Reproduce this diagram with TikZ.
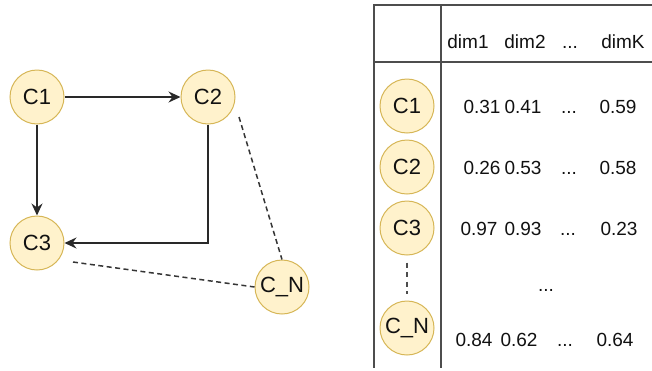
\documentclass[tikz,border=0pt]{standalone}
\usepackage{fontspec}
\setmainfont{Liberation Sans}
\usetikzlibrary{arrows.meta}
\definecolor{nodefill}{HTML}{FFF2CC}
\definecolor{nodeline}{HTML}{D6B656}
\definecolor{gridline}{HTML}{4D4D4D}
\definecolor{ink}{HTML}{111111}
\tikzset{
  cnode/.style={circle, draw=nodeline, fill=nodefill, line width=1pt,
    minimum size=54pt, inner sep=0pt, text=ink, font=\fontsize{22}{24}\selectfont},
  flow/.style={draw=ink!90, line width=1.5pt,
    -{Stealth[length=12pt,width=11pt,inset=4pt]}},
  link/.style={draw=ink!85, line width=1.5pt, dash pattern=on 5pt off 3.5pt},
  grid/.style={draw=gridline, line width=1.8pt},
  cell/.style={inner sep=0pt, anchor=base, text=ink, font=\fontsize{19}{21}\selectfont},
}
\begin{document}
\begin{tikzpicture}[x=1pt, y=-1pt]
  \useasboundingbox (0,0) rectangle (652,370);

  % graph of clusters
  \node[cnode] (c1) at (37,97) {C1};
  \node[cnode] (c2) at (208,97) {C2};
  \node[cnode] (c3) at (37,243) {C3};
  \node[cnode] (cn) at (282,287) {C\_N};
  \coordinate (bend) at (208,243);
  \coordinate (c2end) at (239,117);
  \coordinate (c3end) at (73,262);

  \draw[flow] (c1) -- (c2);
  \draw[flow] (c1) -- (c3);
  \draw[flow] (c2.south) -- (bend) -- (c3.east);
  \draw[link] (c2end) -- (cn.north);
  \draw[link] (c3end) -- (cn.west);

  % embedding table
  \coordinate (tl) at (374,5);
  \coordinate (tr) at (653,5);
  \coordinate (bl) at (374,368);
  \coordinate (hl) at (374,62);
  \coordinate (hr) at (653,62);
  \coordinate (vt) at (441,5);
  \coordinate (vb) at (441,368);
  \draw[grid] (tr) -- (tl) -- (bl);
  \draw[grid] (hl) -- (hr);
  \draw[grid] (vt) -- (vb);

  % header (text baselines)
  \node[cell] (h1) at (468,48) {dim1};
  \node[cell] (h2) at (525,48) {dim2};
  \node[cell] (h3) at (570,48) {...};
  \node[cell] (h4) at (623,48) {dimK};

  \node[cnode] (r1) at (407,106) {C1};
  \node[cnode] (r2) at (407,167) {C2};
  \node[cnode] (r3) at (407,228) {C3};
  \node[cnode] (rn) at (407,328) {C\_N};
  \draw[link, draw=gridline, line width=2pt, dash pattern=on 5pt off 4.5pt,
        shorten <=7pt, shorten >=7pt] (r3) -- (rn);

  \node[cell] (v11) at (482,113) {0.31};
  \node[cell] (v12) at (523,113) {0.41};
  \node[cell] (v13) at (569,113) {...};
  \node[cell] (v14) at (618,113) {0.59};

  \node[cell] (v21) at (482,174) {0.26};
  \node[cell] (v22) at (523,174) {0.53};
  \node[cell] (v23) at (569,174) {...};
  \node[cell] (v24) at (618,174) {0.58};

  \node[cell] (v31) at (479,235) {0.97};
  \node[cell] (v32) at (523,235) {0.93};
  \node[cell] (v33) at (568,235) {...};
  \node[cell] (v34) at (619,235) {0.23};

  \node[cell] (vdots) at (546,291) {...};

  \node[cell] (vn1) at (474,346) {0.84};
  \node[cell] (vn2) at (519,346) {0.62};
  \node[cell] (vn3) at (565,346) {...};
  \node[cell] (vn4) at (615,346) {0.64};
\end{tikzpicture}
\end{document}
